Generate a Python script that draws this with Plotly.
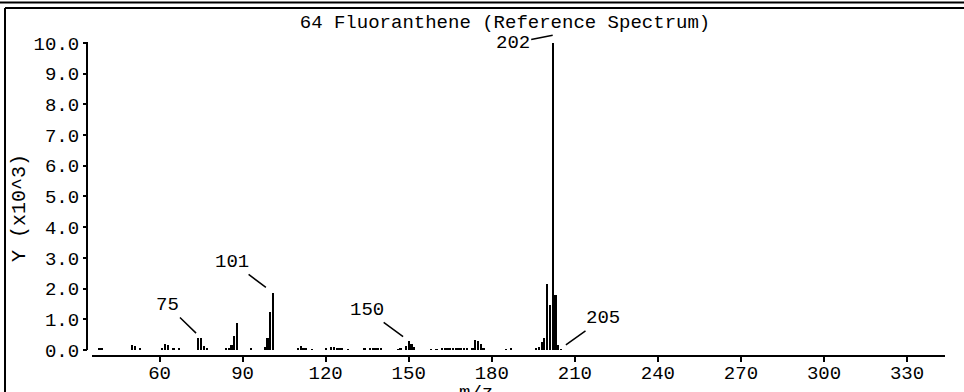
import plotly.graph_objects as go

# ---- data (m/z, intensity in units of 10^3) ----
mz = [38, 39, 50, 51, 53, 61, 62, 63, 65, 67,
      74, 75, 76, 77, 84, 85, 86, 87, 88, 93,
      98, 99, 100, 101, 110, 111, 112, 113, 115,
      120, 122, 123, 124, 125, 126, 128,
      134, 136, 137, 138, 139, 140,
      146, 147, 149, 150, 151, 152,
      158, 160, 162, 163, 164, 165, 166, 167, 168, 169, 170, 171,
      173, 174, 175, 176, 177, 185, 187,
      196, 197, 198, 199, 200, 201, 202, 203, 204, 205]
intensity = [0.07, 0.05, 0.15, 0.13, 0.05, 0.08, 0.20, 0.15, 0.04, 0.04,
             0.38, 0.40, 0.14, 0.08, 0.05, 0.07, 0.15, 0.45, 0.87, 0.04,
             0.10, 0.40, 1.24, 1.86, 0.05, 0.12, 0.08, 0.05, 0.03,
             0.04, 0.10, 0.10, 0.08, 0.06, 0.05, 0.03,
             0.05, 0.05, 0.05, 0.06, 0.05, 0.05,
             0.03, 0.06, 0.12, 0.30, 0.18, 0.10,
             0.03, 0.03, 0.04, 0.05, 0.04, 0.05, 0.04, 0.05, 0.04, 0.04, 0.05, 0.04,
             0.08, 0.32, 0.28, 0.20, 0.06, 0.03, 0.05,
             0.04, 0.10, 0.25, 0.40, 2.15, 1.47, 10.0, 1.79, 0.15, 0.03]

x_ticks = [60, 90, 120, 150, 180, 210, 240, 270, 300, 330]
y_ticks = [0, 1, 2, 3, 4, 5, 6, 7, 8, 9, 10]
y_tick_text = ["%.1f" % v for v in y_ticks]

labels_mz = [75, 101, 150, 202, 205]
labels_y = [0.39, 1.86, 0.30, 10.25, 0.05]
labels_ax = [-34, -41, -42, -40, 42]
labels_ay = [-33, -31, -31, 8, -30]
labels_standoff = [7, 9, 7, 0, 6]

title_text = "64 Fluoranthene (Reference Spectrum)"
x_title = "m/z"
y_title = "Y (x10^3)"

FONT = "Liberation Mono"
FS = 19

fig = go.Figure()
fig.add_trace(go.Bar(x=mz, y=intensity, width=0.8,
                     marker=dict(color="black", line=dict(width=0))))

PW, PH = 858, 321  # plot area size in px
L, T = 87, 35


def px2paper_x(px):
    return (px - L) / PW


def px2paper_y(py):
    return (T + PH - py) / PH


annotations = []
for m, yv, ax, ay, so in zip(labels_mz, labels_y, labels_ax, labels_ay, labels_standoff):
    annotations.append(dict(x=m, y=yv, xref="x", yref="y", text=str(m),
                            showarrow=True, arrowhead=0, arrowwidth=1.5,
                            arrowcolor="black", ax=ax, ay=ay, standoff=so,
                            font=dict(family=FONT, size=FS, color="black")))

annotations.append(dict(x=px2paper_x(20), y=px2paper_y(208), xref="paper", yref="paper",
                        xanchor="center", yanchor="middle",
                        text=y_title, textangle=-90, showarrow=False,
                        font=dict(family=FONT, size=20, color="black")))
annotations.append(dict(x=px2paper_x(476), y=px2paper_y(393), xref="paper", yref="paper",
                        xanchor="center", yanchor="middle",
                        text=x_title, showarrow=False,
                        font=dict(family=FONT, size=FS, color="black")))

shapes = [
    dict(type="line", xref="paper", yref="paper",
         x0=px2paper_x(0), x1=px2paper_x(964), y0=px2paper_y(2.5), y1=px2paper_y(2.5),
         line=dict(color="black", width=2)),
    dict(type="line", xref="paper", yref="paper",
         x0=px2paper_x(5), x1=px2paper_x(964), y0=px2paper_y(8), y1=px2paper_y(8),
         line=dict(color="black", width=2)),
    dict(type="line", xref="paper", yref="paper",
         x0=px2paper_x(5), x1=px2paper_x(5), y0=px2paper_y(8), y1=px2paper_y(392),
         line=dict(color="black", width=2)),
    # y axis line (from 0 to the top tick)
    dict(type="line", xref="paper", yref="y",
         x0=0, x1=0, y0=-0.06, y1=10.03,
         line=dict(color="black", width=2)),
]

fig.update_layout(
    width=964, height=392,
    margin=dict(l=L, r=964 - L - PW, t=T, b=392 - T - PH, pad=0, autoexpand=False),
    paper_bgcolor="white", plot_bgcolor="white",
    showlegend=False, bargap=0,
    title=dict(text=title_text, x=505 / 964, xanchor="center", xref="container",
               y=1 - 21 / 392, yanchor="middle", yref="container",
               font=dict(family=FONT, size=FS, color="black")),
    xaxis=dict(domain=[5 / PW, 1], range=[35.6, 343.7], anchor="free", position=0,
               automargin=False,
               showline=True, linecolor="black", linewidth=2,
               ticks="outside", ticklen=5, tickwidth=2, tickcolor="black",
               ticklabelstandoff=-6,
               tickvals=x_ticks, showgrid=False, zeroline=False,
               tickfont=dict(family=FONT, size=FS, color="black")),
    yaxis=dict(domain=[6 / PH, 1], range=[0, 10.26], anchor="free", position=0,
               automargin=False,
               showline=False,
               ticks="outside", ticklen=4, tickwidth=2, tickcolor="black",
               tickvals=y_ticks, ticktext=y_tick_text, showgrid=False, zeroline=False,
               tickfont=dict(family=FONT, size=FS, color="black")),
    annotations=annotations,
    shapes=shapes,
)

fig.write_html("out.html", config={"displayModeBar": False},
               post_script="document.body.style.margin='0';document.body.style.overflow='hidden';")
